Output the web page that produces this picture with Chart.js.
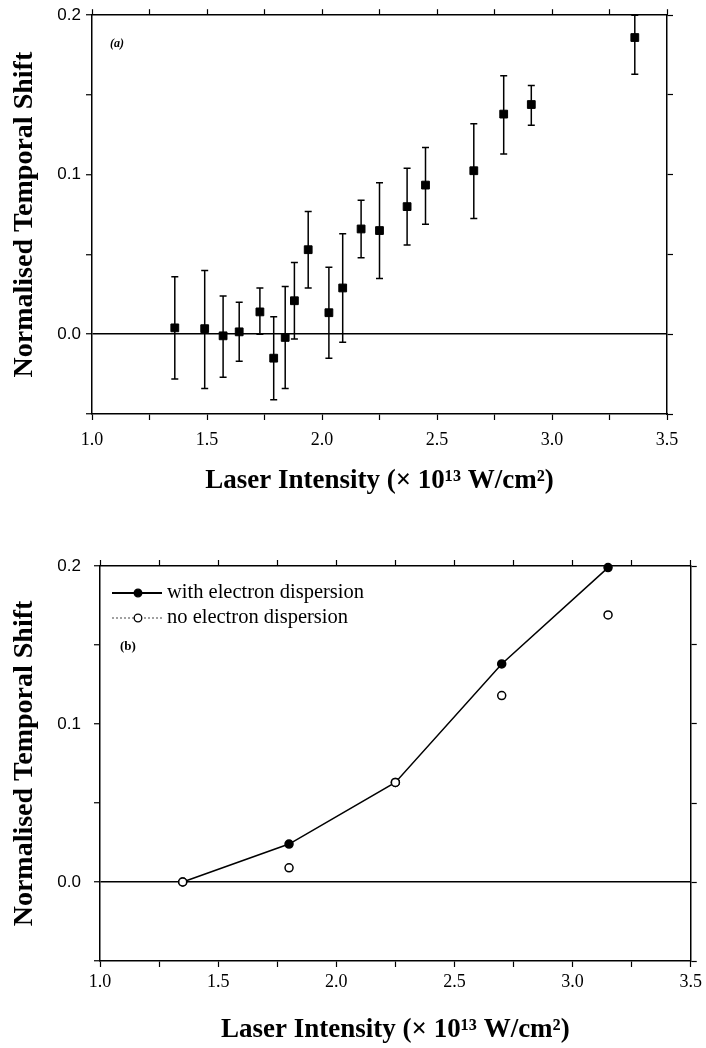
<!DOCTYPE html>
<html>
<head>
<meta charset="utf-8">
<script src="https://cdn.jsdelivr.net/npm/chart.js@4.4.1/dist/chart.umd.min.js"></script>
<style>
  body { margin: 0; background: #fff; }
  canvas { position: absolute; left: 0; }
  #chartA { top: 0; }
  #chartB { top: 520px; }
</style>
</head>
<body>
<canvas id="chartA" width="706" height="500"></canvas>
<canvas id="chartB" width="706" height="528"></canvas>
<script>
// panel (a): measured shift, with error bars
const intensityA = [1.36, 1.49, 1.57, 1.64, 1.73, 1.79, 1.84, 1.88, 1.94, 2.03, 2.09, 2.17, 2.25, 2.37, 2.45, 2.66, 2.79, 2.91, 3.36];
const shiftA     = [0.004, 0.0035, -0.001, 0.0015, 0.014, -0.015, -0.002, 0.021, 0.053, 0.0135, 0.029, 0.066, 0.065, 0.080, 0.0935, 0.1025, 0.138, 0.144, 0.186];
const shiftHighA = [0.036, 0.040, 0.024, 0.020, 0.029, 0.011, 0.030, 0.045, 0.077, 0.042, 0.063, 0.084, 0.095, 0.104, 0.117, 0.132, 0.162, 0.156, 0.200];
const shiftLowA  = [-0.028, -0.034, -0.027, -0.017, 0.000, -0.041, -0.034, -0.003, 0.029, -0.015, -0.005, 0.048, 0.035, 0.056, 0.069, 0.0725, 0.113, 0.131, 0.163];

// panel (b): model
const intensityB = [1.35, 1.8, 2.25, 2.7, 3.15];
const withDispersion = [0, 0.024, 0.063, 0.138, 0.199];
const noDispersion   = [0, 0.009, 0.063, 0.118, 0.169];

const xTicks = [1.0, 1.5, 2.0, 2.5, 3.0, 3.5];
const yTicks = [0.0, 0.1, 0.2];

Chart.defaults.animation = false;
Chart.defaults.color = '#000';

const isMajor = (list, v) => list.some(t => Math.abs(t - v) < 1e-6);

// box = sizes of the axis areas so the plot lands where the reference has it
function buildScales(box) {
  const tickMarks = { drawOnChartArea: false, tickLength: 6, tickColor: '#000', tickWidth: 1.2 };
  const border = { color: '#000', width: 1.5 };
  return {
    x: {
      type: 'linear', position: 'bottom', min: 1, max: 3.5,
      afterFit: s => { s.height = box.bottom; },
      ticks: {
        stepSize: 0.25, autoSkip: false, maxRotation: 0, padding: box.xPad,
        font: { family: 'Liberation Serif', size: 18 },
        callback: v => isMajor(xTicks, v) ? v.toFixed(1) : ''
      },
      grid: tickMarks, border,
      title: {
        display: true, text: 'Laser Intensity (× 10¹³ W/cm²)',
        font: { family: 'Liberation Serif', size: 27, weight: 'bold' },
        padding: { top: 0, bottom: box.titlePad }
      }
    },
    x2: {
      type: 'linear', position: 'top', min: 1, max: 3.5,
      afterFit: s => { s.height = box.top; },
      ticks: { display: false, stepSize: 0.25, autoSkip: false },
      grid: tickMarks, border
    },
    y: {
      type: 'linear', position: 'left', min: -0.05, max: 0.2,
      afterFit: s => { s.width = box.left; },
      ticks: {
        stepSize: 0.05, autoSkip: false, padding: box.yPad,
        font: { family: 'Liberation Sans', size: 17 },
        callback: v => isMajor(yTicks, v) ? v.toFixed(1) : ''
      },
      grid: {
        drawOnChartArea: true, tickLength: 6, tickColor: '#000', tickWidth: 1.2, lineWidth: 1.5,
        color: c => Math.abs(c.tick.value) < 1e-9 ? '#000' : 'rgba(0,0,0,0)'
      },
      border,
      title: {
        display: true, text: 'Normalised Temporal Shift',
        font: { family: 'Liberation Serif', size: 28, weight: 'bold' },
        padding: { top: 8, bottom: 0 }
      }
    },
    y2: {
      type: 'linear', position: 'right', min: -0.05, max: 0.2,
      afterFit: s => { s.width = box.right; },
      ticks: { display: false, stepSize: 0.05, autoSkip: false },
      grid: tickMarks, border
    }
  };
}

const errorBars = {
  id: 'errorBars',
  beforeDatasetsDraw(chart) {
    const { ctx, scales: { x, y } } = chart;
    ctx.save();
    ctx.strokeStyle = '#000';
    ctx.lineWidth = 1.5;
    intensityA.forEach((v, i) => {
      const px = x.getPixelForValue(v);
      const top = y.getPixelForValue(shiftHighA[i]);
      const bot = y.getPixelForValue(shiftLowA[i]);
      ctx.beginPath();
      ctx.moveTo(px, top); ctx.lineTo(px, bot);
      ctx.moveTo(px - 3.5, top); ctx.lineTo(px + 3.5, top);
      ctx.moveTo(px - 3.5, bot); ctx.lineTo(px + 3.5, bot);
      ctx.stroke();
    });
    ctx.restore();
  }
};

const panelLabel = (text, dx, dy, font) => ({
  id: 'panelLabel',
  afterDraw(chart) {
    const { ctx, chartArea } = chart;
    ctx.save();
    ctx.font = font;
    ctx.fillStyle = '#000';
    ctx.textBaseline = 'middle';
    ctx.fillText(text, chartArea.left + dx, chartArea.top + dy);
    ctx.restore();
  }
});

// hand drawn legend, the reference has a solid and a dotted key line
const legendB = {
  id: 'legendB',
  afterDraw(chart) {
    const { ctx, chartArea } = chart;
    const x0 = chartArea.left, y0 = chartArea.top;
    const rows = [
      { text: 'with electron dispersion', dash: [], color: '#000', fill: '#000', dy: 27 },
      { text: 'no electron dispersion', dash: [2, 2], color: '#444', fill: '#fff', dy: 52 }
    ];
    ctx.save();
    ctx.font = '20.5px "Liberation Serif"';
    ctx.textBaseline = 'middle';
    rows.forEach(r => {
      const yy = y0 + r.dy;
      ctx.setLineDash(r.dash);
      ctx.strokeStyle = r.color;
      ctx.lineWidth = r.dash.length ? 1 : 1.8;
      ctx.beginPath();
      ctx.moveTo(x0 + 12, yy); ctx.lineTo(x0 + 62, yy);
      ctx.stroke();
      ctx.setLineDash([]);
      ctx.beginPath();
      ctx.arc(x0 + 38, yy, 3.8, 0, Math.PI * 2);
      ctx.fillStyle = r.fill;
      ctx.fill();
      ctx.strokeStyle = '#000';
      ctx.lineWidth = 1.3;
      ctx.stroke();
      ctx.fillStyle = '#000';
      ctx.fillText(r.text, x0 + 67, yy);
    });
    ctx.restore();
  }
};

new Chart(document.getElementById('chartA'), {
  type: 'scatter',
  data: {
    datasets: [{
      label: 'measured',
      data: intensityA.map((x, i) => ({ x, y: shiftA[i] })),
      pointStyle: 'rect',
      pointRadius: 5.5,
      backgroundColor: '#000',
      borderColor: '#000',
      clip: false
    }]
  },
  options: {
    responsive: false,
    layout: { padding: 0 },
    plugins: { legend: { display: false }, tooltip: { enabled: false } },
    scales: buildScales({ left: 92, right: 39, top: 14, bottom: 86, xPad: 9, yPad: 5, titlePad: 3 })
  },
  plugins: [errorBars, panelLabel('(a)', 18, 29, 'italic bold 12px "Liberation Serif"')]
});

new Chart(document.getElementById('chartB'), {
  type: 'scatter',
  data: {
    datasets: [{
      label: 'no electron dispersion',
      data: intensityB.map((x, i) => ({ x, y: noDispersion[i] })),
      showLine: false,
      pointRadius: 4,
      pointBackgroundColor: '#fff',
      pointBorderColor: '#000',
      pointBorderWidth: 1.5,
      clip: false
    }, {
      label: 'with electron dispersion',
      data: intensityB.map((x, i) => ({ x, y: withDispersion[i] })),
      showLine: true,
      borderColor: '#000',
      borderWidth: 1.5,
      pointRadius: 4,
      pointBackgroundColor: '#000',
      pointBorderColor: '#000',
      clip: false
    }]
  },
  options: {
    responsive: false,
    layout: { padding: 0 },
    plugins: { legend: { display: false }, tooltip: { enabled: false } },
    scales: buildScales({ left: 100, right: 13, top: 46, bottom: 87, xPad: 4, yPad: 13, titlePad: 2 })
  },
  plugins: [legendB, panelLabel('(b)', 20, 81, 'bold 13px "Liberation Serif"')]
});
</script>
</body>
</html>
